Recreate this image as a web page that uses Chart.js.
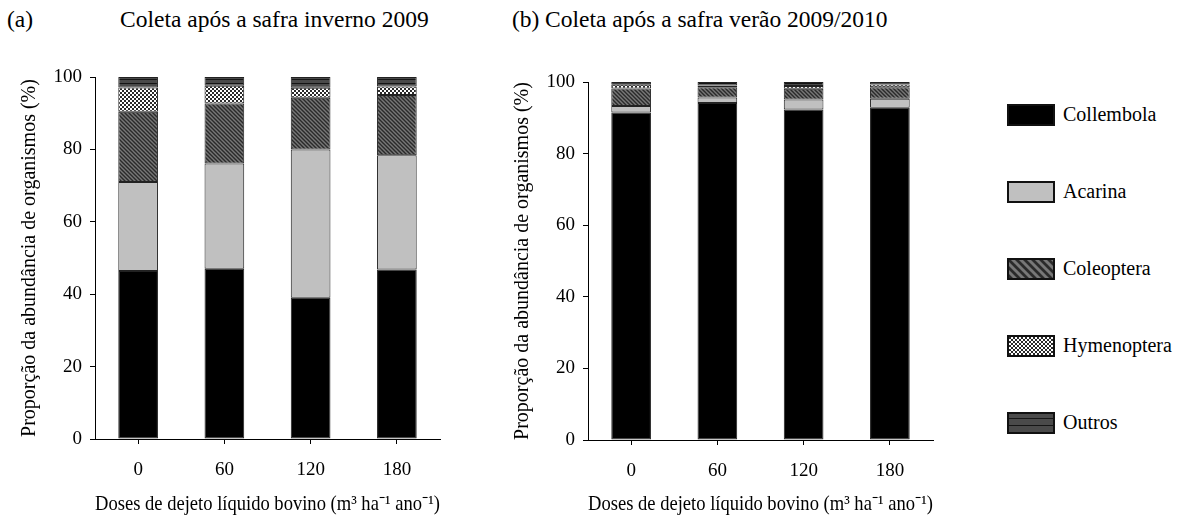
<!DOCTYPE html>
<html>
<head>
<meta charset="utf-8">
<script src="https://cdn.jsdelivr.net/npm/chart.js@4.4.0/dist/chart.umd.min.js"></script>
<style>
    html, body { margin: 0; padding: 0; background: #fff; }
    body {
        width: 1177px; height: 521px; position: relative; overflow: hidden;
        font-family: "Liberation Serif", "Times New Roman", serif; color: #000;
    }
    .panel { position: absolute; top: 0; width: 470px; height: 521px; }
    #panelA { left: 0; }
    #panelB { left: 493px; }
    .ttl { position: absolute; top: 7px; font-size: 23.5px; line-height: 24px; white-space: nowrap; }
    .leg-row { position: absolute; left: 1007px; display: flex; align-items: center; white-space: nowrap; font-size: 20px; }
    .leg-row canvas { display: block; margin-right: 8px; }
</style>
</head>
<body>
<div class="ttl" style="left:7px">(a)</div>
<div class="ttl" style="left:120px">Coleta após a safra inverno 2009</div>
<div class="ttl" style="left:512px">(b)</div>
<div class="ttl" style="left:545px">Coleta após a safra verão 2009/2010</div>

<div class="panel" id="panelA"><canvas id="chartA" width="470" height="521"></canvas></div>
<div class="panel" id="panelB"><canvas id="chartB" width="470" height="521"></canvas></div>
<div id="legend"></div>

<script>
// ---- Data ----
const doses = ["0", "60", "120", "180"];
const yTicks = [0, 20, 40, 60, 80, 100];
const groups = ["Collembola", "Acarina", "Coleoptera", "Hymenoptera", "Outros"];

// (a) inverno 2009, % of organisms
const collembolaA = [46.4, 47.0, 39.0, 46.8];
const acarinaA = [24.6, 29.1, 41.0, 31.6];
const coleopteraA = [19.4, 16.6, 14.3, 16.6];
const hymenopteraA = [6.7, 4.9, 2.7, 2.4];
const outrosA = [2.9, 2.4, 3.0, 2.6];

// (b) verão 2009/2010
const collembolaB = [91.5, 94.1, 92.3, 92.8];
const acarinaB = [1.8, 1.6, 2.8, 2.5];
const coleopteraB = [4.9, 2.8, 3.0, 3.2];
const hymenopteraB = [1.0, 0.5, 0.8, 0.8];
const outrosB = [0.8, 1.0, 1.1, 0.7];

const xTitle = "Doses de dejeto líquido bovino (m³ ha⁻¹ ano⁻¹)";
const yTitle = "Proporção da abundância de organismos (%)";

(function () {
    "use strict";

    const FONT = "'Liberation Serif', 'Times New Roman', serif";
    const EDGE = "#222";

    // ---- Fill patterns (fine for bars, coarse for legend swatches) ----
    function makeFill(kind, coarse) {
        const k = coarse ? 2 : 1;
        const c = document.createElement("canvas");
        const g = c.getContext("2d");
        if (kind === "solid") return "#000";
        if (kind === "gray") return "#c0c0c0";
        if (kind === "diag") {
            const s = 4 * k;
            c.width = s; c.height = s;
            g.fillStyle = "#777";
            g.fillRect(0, 0, s, s);
            g.strokeStyle = "#2a2a2a";
            g.lineWidth = 1.4 * k;
            g.beginPath();
            g.moveTo(-1, -1); g.lineTo(s + 1, s + 1);
            g.moveTo(-1, s - 1); g.lineTo(1, s + 1);
            g.moveTo(s - 1, -1); g.lineTo(s + 1, 1);
            g.stroke();
        } else if (kind === "check") {
            const s = 4;
            c.width = s; c.height = s;
            g.fillStyle = "#fff";
            g.fillRect(0, 0, s, s);
            g.fillStyle = "#2a2a2a";
            g.fillRect(0, 0, 2, 2);
            g.fillRect(2, 2, 2, 2);
        } else if (kind === "hlines") {
            const s = coarse ? 7 : 4;
            c.width = 4; c.height = s;
            g.fillStyle = "#4a4a4a";
            g.fillRect(0, 0, 4, s);
            g.fillStyle = "#151515";
            g.fillRect(0, s - 1, 4, 1);
        }
        return g.createPattern(c, "repeat");
    }

    const KINDS = ["solid", "gray", "diag", "check", "hlines"];

    function datasetsFor(series) {
        return series.map(function (vals, i) {
            return {
                label: groups[i],
                data: vals,
                backgroundColor: makeFill(KINDS[i], false),
                borderColor: EDGE,
                borderWidth: 1,
                borderSkipped: false,
                barPercentage: 0.46,
                categoryPercentage: 1,
            };
        });
    }

    function initChart(id, series, top, xHeight) {
        const el = document.getElementById(id);
        return new Chart(el, {
            type: "bar",
            data: { labels: doses, datasets: datasetsFor(series) },
            options: {
                responsive: false,
                animation: false,
                events: [],
                layout: { padding: { top: top, right: 30, bottom: 0, left: 0 } },
                plugins: { legend: { display: false }, tooltip: { enabled: false } },
                scales: {
                    x: {
                        stacked: true,
                        afterFit: function (s) { s.height = xHeight; },
                        grid: { display: true, drawOnChartArea: false, offset: false, tickLength: 5, color: "#000" },
                        border: { display: true, color: "#000", width: 1 },
                        ticks: { color: "#000", padding: 15, font: { family: FONT, size: 19 } },
                        title: {
                            display: true, text: xTitle, color: "#000",
                            padding: { top: 0, bottom: 4 },
                            font: { family: FONT, size: 21 },
                        },
                    },
                    y: {
                        stacked: true,
                        min: 0,
                        max: 100,
                        afterFit: function (s) { s.width = 95; },
                        afterBuildTicks: function (s) { s.ticks = yTicks.map(function (v) { return { value: v }; }); },
                        grid: { display: true, drawOnChartArea: false, tickLength: 5, color: "#000" },
                        border: { display: true, color: "#000", width: 1 },
                        ticks: { color: "#000", padding: 8, font: { family: FONT, size: 19 } },
                        title: {
                            display: true, text: yTitle, color: "#000",
                            padding: { top: 18, bottom: 0 },
                            font: { family: FONT, size: 20 },
                        },
                    },
                },
            },
        });
    }

    // ---- Legend (right side) ----
    function initLegend() {
        const host = document.getElementById("legend");
        const centers = [115, 192, 269, 346, 423];
        groups.forEach(function (name, i) {
            const row = document.createElement("div");
            row.className = "leg-row";
            row.style.top = (centers[i] - 12) + "px";
            const sw = document.createElement("canvas");
            sw.width = 48; sw.height = 22;
            const g = sw.getContext("2d");
            g.fillStyle = makeFill(KINDS[i], true);
            g.fillRect(1, 1, 46, 20);
            g.strokeStyle = "#111";
            g.lineWidth = 2;
            g.strokeRect(1, 1, 46, 20);
            const label = document.createElement("span");
            label.textContent = name;
            row.appendChild(sw);
            row.appendChild(label);
            host.appendChild(row);
        });
    }

    initChart("chartA", [collembolaA, acarinaA, coleopteraA, hymenopteraA, outrosA], 77, 82);
    initChart("chartB", [collembolaB, acarinaB, coleopteraB, hymenopteraB, outrosB], 82, 81);
    initLegend();
})();
</script>
</body>
</html>
